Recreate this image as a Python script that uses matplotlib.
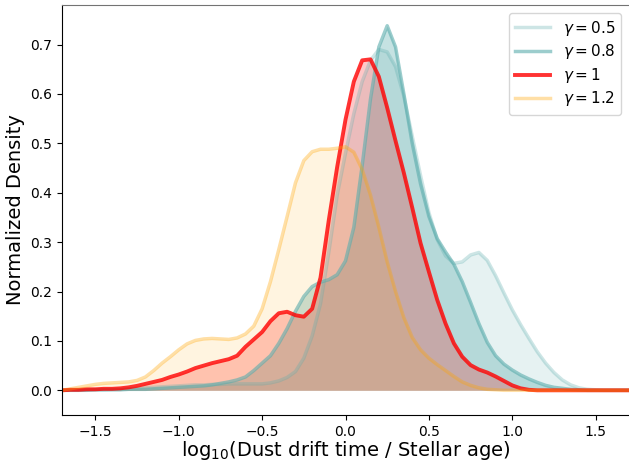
import numpy as np
import matplotlib
matplotlib.use("Agg")
import matplotlib.pyplot as plt

# x grid of log10(drift time / age), step 0.05 from -1.7 to 1.7
x = np.round(np.arange(-34, 35) * 0.05, 2)

# densities, one value per grid point
dens_05 = [0.000, 0.000, 0.000, 0.001, 0.001, 0.001, 0.002, 0.002, 0.003, 0.004,
           0.005, 0.006, 0.007, 0.008, 0.009, 0.010, 0.011, 0.011, 0.012, 0.012,
           0.013, 0.013, 0.013, 0.013, 0.013, 0.015, 0.019, 0.026, 0.038, 0.065,
           0.110, 0.175, 0.280, 0.395, 0.480, 0.560, 0.625, 0.668, 0.690, 0.685,
           0.655, 0.595, 0.515, 0.435, 0.360, 0.305, 0.272, 0.257, 0.260, 0.274,
           0.279, 0.263, 0.232, 0.197, 0.163, 0.133, 0.105, 0.078, 0.055, 0.036,
           0.021, 0.011, 0.005, 0.002, 0.001, 0.000, 0.000, 0.000, 0.000]

dens_08 = [0.000, 0.000, 0.000, 0.000, 0.001, 0.001, 0.001, 0.001, 0.002, 0.002,
           0.002, 0.003, 0.004, 0.005, 0.006, 0.007, 0.008, 0.009, 0.011, 0.014,
           0.017, 0.021, 0.027, 0.040, 0.055, 0.070, 0.095, 0.125, 0.160, 0.190,
           0.210, 0.219, 0.224, 0.234, 0.262, 0.330, 0.455, 0.590, 0.695, 0.738,
           0.695, 0.600, 0.500, 0.418, 0.352, 0.307, 0.280, 0.255, 0.220, 0.178,
           0.135, 0.097, 0.070, 0.053, 0.041, 0.031, 0.023, 0.016, 0.010, 0.006,
           0.004, 0.002, 0.001, 0.000, 0.000, 0.000, 0.000, 0.000, 0.000]

dens_10 = [0.000, 0.001, 0.001, 0.002, 0.002, 0.003, 0.003, 0.004, 0.006, 0.009,
           0.013, 0.017, 0.021, 0.027, 0.032, 0.038, 0.045, 0.050, 0.055, 0.059,
           0.063, 0.070, 0.088, 0.103, 0.118, 0.140, 0.156, 0.159, 0.152, 0.149,
           0.165, 0.228, 0.345, 0.452, 0.548, 0.625, 0.668, 0.670, 0.635, 0.572,
           0.505, 0.440, 0.370, 0.298, 0.240, 0.183, 0.135, 0.095, 0.068, 0.051,
           0.042, 0.036, 0.028, 0.019, 0.010, 0.004, 0.001, 0.000, 0.000, 0.000,
           0.000, 0.000, 0.000, 0.000, 0.000, 0.000, 0.000, 0.000, 0.000]

dens_12 = [0.000, 0.003, 0.006, 0.009, 0.012, 0.014, 0.015, 0.016, 0.017, 0.020,
           0.027, 0.040, 0.055, 0.068, 0.082, 0.094, 0.101, 0.104, 0.105, 0.104,
           0.103, 0.106, 0.114, 0.130, 0.165, 0.220, 0.285, 0.352, 0.420, 0.465,
           0.483, 0.488, 0.488, 0.490, 0.493, 0.482, 0.447, 0.395, 0.330, 0.260,
           0.200, 0.147, 0.107, 0.082, 0.065, 0.052, 0.040, 0.028, 0.017, 0.010,
           0.005, 0.002, 0.001, 0.000, 0.000, 0.000, 0.000, 0.000, 0.000, 0.000,
           0.000, 0.000, 0.000, 0.000, 0.000, 0.000, 0.000, 0.000, 0.000]

labels = [r'$\gamma=0.5$', r'$\gamma=0.8$', r'$\gamma=1$', r'$\gamma=1.2$']
series = [dens_05, dens_08, dens_10, dens_12]
colors = ['#5aacac', '#5aacac', 'red', 'orange']
line_alpha = [0.3, 0.6, 0.8, 0.35]
fill_alpha = [0.15, 0.35, 0.22, 0.12]
widths = [2.5, 2.5, 2.8, 2.5]

fig = plt.figure(figsize=(6.29, 4.62), dpi=100)
ax = fig.add_axes([62 / 629, 1 - 415 / 462, 1 - 62 / 629, 410 / 462])

for i, y in enumerate(series):
    ax.fill_between(x, y, color=colors[i], alpha=fill_alpha[i], lw=0)
    ax.plot(x, y, color=colors[i], alpha=line_alpha[i], lw=widths[i],
            label=labels[i], solid_joinstyle='round')

ax.set_xlim(-1.7, 1.7)
ax.set_ylim(-0.05, 0.78)
ax.set_xlabel(r'log$_{10}$(Dust drift time / Stellar age)', fontsize=14, labelpad=0)
ax.set_ylabel('Normalized Density', fontsize=14)
ax.tick_params(labelsize=10)
ax.spines['right'].set_visible(False)
ax.spines['top'].set_color('0.45')
ax.legend(loc='upper right', fontsize=11, labelspacing=0.3, handlelength=2.3)

fig.savefig('out.png', dpi=100)
